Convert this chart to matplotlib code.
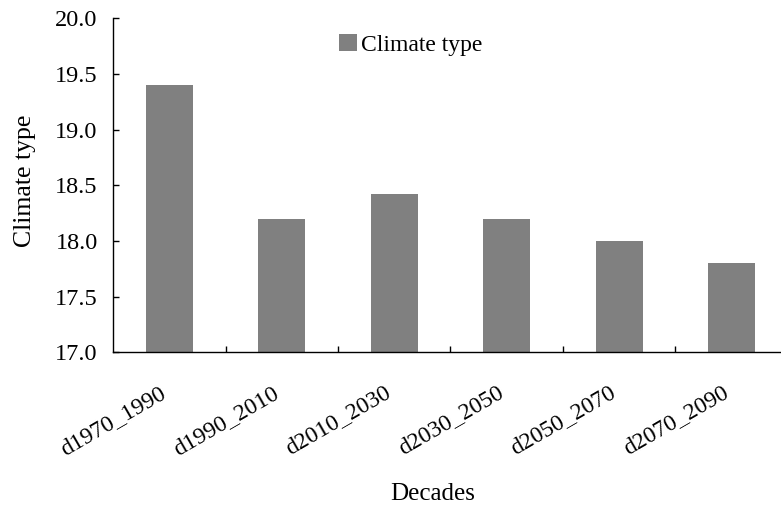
"""bar chart of climate type per decade"""
import matplotlib
matplotlib.use("Agg")
import matplotlib.pyplot as plt
import matplotlib.transforms as mtransforms
import numpy as np

decades = ["d1970_1990", "d1990_2010", "d2010_2030", "d2030_2050", "d2050_2070", "d2070_2090"]
climate_type = [19.4, 18.2, 18.42, 18.2, 18.0, 17.8]
y_ticks = [17.0, 17.5, 18.0, 18.5, 19.0, 19.5, 20.0]

plt.rcParams['font.family'] = ['Liberation Serif', 'DejaVu Serif']

fig = plt.figure(figsize=(7.81, 5.08), dpi=100)
ax = fig.add_axes([113 / 781, 1 - 352.3 / 508, 675 / 781, 334 / 508])

x = np.arange(len(decades))
ax.bar(x, climate_type, width=0.42, color='#808080', label='Climate type', zorder=2)

ax.set_xlim(-0.5, len(decades) - 0.5)
ax.set_ylim(17.0, 20.0)
ax.set_yticks(y_ticks)
ax.set_yticklabels([f"{v:.1f}" for v in y_ticks])

# labels under the bars, tick marks between them
ax.set_xticks(x)
ax.set_xticklabels(decades, rotation=30, ha='right', va='center', rotation_mode='anchor')
ax.set_xticks(np.arange(0.5, len(decades) - 0.5, 1.0), minor=True)
ax.tick_params(axis='x', which='major', length=0, pad=28, labelsize=17)
ax.tick_params(axis='x', which='minor', direction='in', length=4.5, width=1)
ax.tick_params(axis='y', direction='in', length=4.5, width=1, pad=11, labelsize=17.5)

# nudge rotated labels a little to the left
shift = mtransforms.ScaledTranslation(-5 / 100, 0, fig.dpi_scale_trans)
for lbl in ax.get_xticklabels():
    lbl.set_transform(lbl.get_transform() + shift)

for side in ['top', 'right']:
    ax.spines[side].set_visible(False)
for side in ['left', 'bottom']:
    ax.spines[side].set_linewidth(1)

ax.set_xlabel('Decades', fontsize=18)
ax.xaxis.set_label_coords(0.473, -0.39)
ax.set_ylabel('Climate type', fontsize=18.5)
ax.yaxis.set_label_coords(-0.114, 0.513)

fig.legend(loc='center left', bbox_to_anchor=(339 / 781, 1 - 45 / 508),
           frameon=False, fontsize=17, handlelength=0.75, handleheight=0.75,
           handletextpad=0.2, borderpad=0, borderaxespad=0)

fig.savefig("out.png", dpi=100)
